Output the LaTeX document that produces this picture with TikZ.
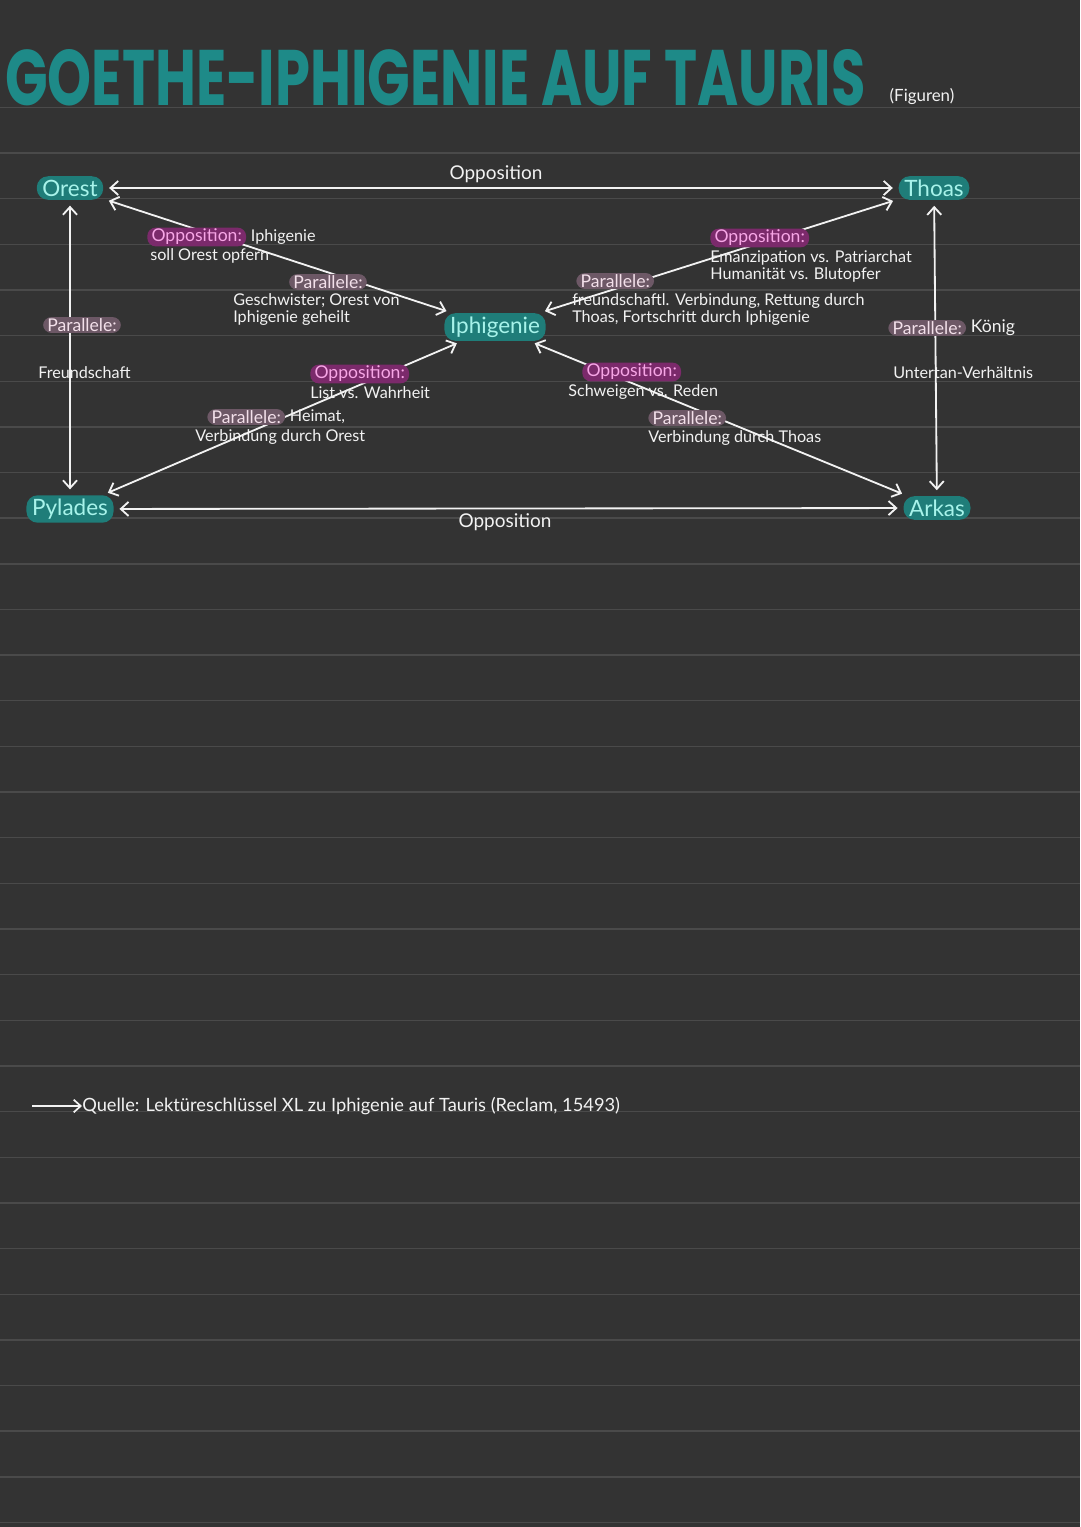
\documentclass[tikz,border=0pt]{standalone}
\usepackage{fontspec}
\usepackage{graphicx}
\setmainfont{Lato}
\newfontfamily\titlefont{Poppins}
\usetikzlibrary{arrows.meta, positioning}
\definecolor{paper}{HTML}{333333}
\definecolor{rule}{HTML}{4A4A4A}
\definecolor{ink}{HTML}{F2F2F2}
\definecolor{tealpill}{HTML}{1F7D79}
\definecolor{mint}{HTML}{A7F3EA}
\definecolor{magpill}{HTML}{7B2A6B}
\definecolor{magink}{HTML}{F7A6E6}
\definecolor{mauvepill}{HTML}{6D5866}
\definecolor{mauveink}{HTML}{F3E0EA}
\definecolor{titleteal}{HTML}{1E8A88}
\tikzset{
    figure/.style={fill=tealpill, text=mint, rounded corners=8pt, inner xsep=4pt, inner ysep=2.5pt, font=\fontsize{16}{18}\selectfont},
    opp/.style={fill=magpill, text=magink, rounded corners=6pt, inner xsep=3pt, inner ysep=1pt, font=\fontsize{12.5}{14}\selectfont},
    par/.style={fill=mauvepill, text=mauveink, rounded corners=6pt, inner xsep=3pt, inner ysep=1pt, font=\fontsize{12.5}{14}\selectfont},
    note/.style={text=ink, inner sep=0pt, align=left, font=\fontsize{11.5}{12.5}\selectfont},
    relation/.style={text=ink, inner sep=0pt, font=\fontsize{13.5}{15}\selectfont},
    link/.style={draw=ink, line width=1.3pt, {Straight Barb[length=5.5pt,width=10pt]}-{Straight Barb[length=5.5pt,width=10pt]}, shorten <=4pt, shorten >=4pt}
}
\begin{document}
\begin{tikzpicture}[x=0.025cm, y=-0.025cm]
                \fill[paper] (0,0) rectangle (1080,1527);
                \useasboundingbox (0,0) rectangle (1080,1527);
                \foreach \k in {2,...,33}
                    \draw[rule, line width=1pt] (0,16+45.65*\k) -- (1080,16+45.65*\k);
                \node (title) [anchor=west, inner sep=0pt, text=titleteal] at (5,78)
                    {\resizebox{21.5cm}{1.4cm}{\titlefont\bfseries GOETHE-IPHIGENIE AUF TAURIS}};
                \node (figuren) [note, font=\fontsize{12}{13}\selectfont] at (922,96) {(Figuren)};
                \node (orest) [figure] at (70,188) {Orest};
                \node (thoas) [figure] at (934,188) {Thoas};
                \node (iphigenie) [figure] at (495,327) {Iphigenie};
                \node (pylades) [figure] at (70,509) {Pylades};
                \node (arkas) [figure] at (937,508) {Arkas};
                \draw[link] (orest) -- (thoas);
                \draw[link] (pylades) -- (arkas);
                \draw[link] (orest) -- (pylades);
                \draw[link] (thoas) -- (arkas);
                \draw[link] (orest) -- (iphigenie);
                \draw[link] (thoas) -- (iphigenie);
                \draw[link] (pylades) -- (iphigenie);
                \draw[link] (arkas) -- (iphigenie);
                \node (oppTop) [relation] at (496,174) {Opposition};
                \node (oppBottom) [relation] at (505,522) {Opposition};
                \node (parLeft) [par] at (82,325) {Parallele:};
                \node (noteLeft) [note, anchor=west] at (38,373) {Freundschaft};
                \node (parRight) [par, anchor=west] at (888,328) {Parallele:};
                \node (koenig) [note, right=3pt of parRight, font=\fontsize{12.5}{14}\selectfont] {König};
                \node (noteRight) [note, anchor=west] at (893,373) {Untertan-Verhältnis};
                \node (oppOI) [opp, anchor=west] at (147,237) {Opposition:};
                \node (noteOIa) [note, right=3pt of oppOI] {Iphigenie};
                \node (noteOIb) [note, anchor=west] at (150,256) {soll Orest opfern};
                \node (parOI) [par] at (328,282) {Parallele:};
                \node (noteOIc) [note, anchor=north west] at (233,293) {Geschwister; Orest von\\Iphigenie geheilt};
                \node (oppTI) [opp, anchor=west] at (710,238) {Opposition:};
                \node (noteTIa) [note, anchor=north west] at (710,250) {Emanzipation vs. Patriarchat\\Humanität vs. Blutopfer};
                \node (parTI) [par, anchor=west] at (576,281) {Parallele:};
                \node (noteTIb) [note, anchor=north west] at (572,293) {freundschaftl. Verbindung, Rettung durch\\Thoas, Fortschritt durch Iphigenie};
                \node (oppPI) [opp, anchor=west] at (310,374) {Opposition:};
                \node (notePIa) [note, anchor=north west] at (310,386) {List vs. Wahrheit};
                \node (parPI) [par, anchor=west] at (207,417) {Parallele:};
                \node (notePIb) [note, right=3pt of parPI] {Heimat,};
                \node (notePIc) [note, anchor=north west] at (195,429) {Verbindung durch Orest};
                \node (oppAI) [opp, anchor=west] at (582,372) {Opposition:};
                \node (noteAIa) [note, anchor=north west] at (568,384) {Schweigen vs. Reden};
                \node (parAI) [par, anchor=west] at (648,418) {Parallele:};
                \node (noteAIb) [note, anchor=north west] at (648,430) {Verbindung durch Thoas};
                \coordinate (srcStart) at (32,1106);
                \node (quelle) [note, anchor=west, font=\fontsize{13}{14}\selectfont] at (82,1106)
                    {Quelle: Lektüreschlüssel XL zu Iphigenie auf Tauris (Reclam, 15493)};
                \draw[ink, line width=1.2pt, -{Straight Barb[length=5pt,width=9pt]}] (srcStart) -- (quelle.west);
\end{tikzpicture}
\end{document}
